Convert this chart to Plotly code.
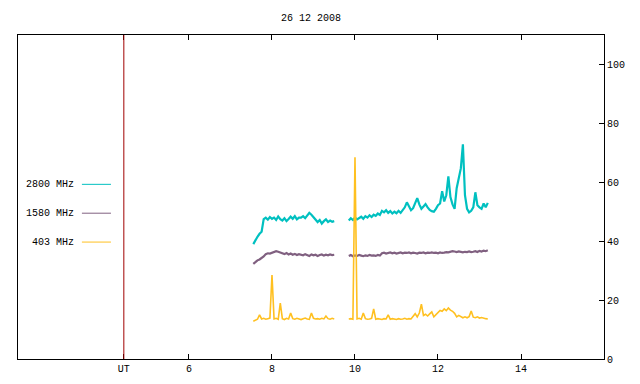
import numpy as np
import plotly.graph_objects as go

# ---- data (hours UT, solar flux units) ----
title_text = "26 12 2008"
sunrise_ut = 4.43
x_tick_vals = [6, 8, 10, 12, 14]
y_tick_vals = [0, 20, 40, 60, 80, 100]

t_seg1 = np.round(7.55 + 0.05 * np.arange(40), 2)
t_seg2 = np.round(9.85 + 0.05 * np.arange(68), 2)

f2800_seg1 = [39.0, 40.5, 41.5, 42.5, 43.2, 47.5, 48.0, 47.3, 48.2, 47.6,
              48.0, 47.2, 48.4, 47.5, 47.0, 47.8, 46.8, 47.5, 48.3, 47.6,
              48.5, 47.4, 48.0, 48.0, 48.5, 47.8, 48.6, 49.6, 49.0, 48.2,
              47.3, 46.5, 47.2, 46.0, 46.8, 47.4, 46.5, 47.0, 46.6, 46.8]
f2800_seg2 = [47.0, 47.8, 47.2, 48.0, 47.4, 47.9, 48.3, 47.6, 48.5, 48.0,
              48.8, 48.2, 49.0, 48.6, 49.4, 48.9, 50.3, 49.8, 50.5, 49.6,
              50.2, 49.4, 50.0, 49.5, 50.3, 49.6, 50.4, 51.5, 53.2, 51.8,
              50.5, 51.2, 53.0, 54.6, 52.5, 51.0, 51.8, 52.6, 51.5, 50.6,
              50.2, 50.0, 51.0, 52.2, 52.8, 57.0, 53.5, 55.6, 62.0, 55.0,
              52.5, 51.0, 58.0, 61.0, 64.7, 72.9, 55.6, 51.0, 49.8, 50.3,
              51.5, 56.6, 52.2, 51.5, 51.0, 52.8, 51.5, 53.0]

f1580_seg1 = [32.3, 33.0, 33.5, 33.8, 34.2, 34.8, 35.6, 35.9, 35.8, 36.0,
              36.3, 36.6, 36.4, 36.1, 35.8, 35.6, 36.0, 35.5, 35.8, 35.4,
              35.7, 35.3, 35.6, 35.5, 35.2, 35.6, 35.4, 35.0, 35.5, 35.2,
              35.4, 35.0, 35.3, 35.5, 35.1, 35.4, 35.2, 35.5, 35.3, 35.4]
f1580_seg2 = [35.0, 35.3, 34.9, 35.2, 35.0, 35.3, 35.1, 34.9, 35.2, 35.0,
              35.3, 35.1, 35.2, 35.0, 35.3, 35.1, 35.9, 36.1, 35.8, 36.0,
              36.2, 35.9, 36.1, 35.8, 36.0, 36.2, 35.9, 36.1, 36.0, 36.2,
              35.9, 36.1, 36.0, 35.8, 36.1, 36.0, 36.2, 35.9, 36.1, 36.0,
              36.2, 36.0, 36.1, 35.9, 36.2, 36.0, 36.1, 36.3, 36.2, 36.4,
              36.6, 36.5, 36.3, 36.5, 36.4, 36.2, 36.4, 36.3, 36.5, 36.3,
              36.4, 36.6, 36.3, 36.7, 36.5, 36.8, 36.6, 36.9]

f403_seg1 = [12.8, 13.3, 13.5, 15.0, 13.6, 13.8, 13.5, 13.7, 13.9, 28.5,
             13.6, 13.8, 13.5, 19.0, 13.7, 13.4, 13.8, 13.6, 15.6, 13.7,
             13.5, 13.8, 13.6, 13.4, 13.7, 13.9, 13.6, 13.5, 15.6, 13.8,
             13.6, 13.7, 13.5, 13.8, 13.6, 14.6, 13.7, 13.5, 13.8, 13.6]
f403_seg2 = [13.6, 13.7, 13.5, 68.5, 13.6, 13.8, 13.5, 15.6, 13.7, 13.5,
             13.6, 13.8, 17.0, 13.5, 13.7, 13.6, 13.4, 13.7, 13.6, 15.0,
             13.5, 13.7, 13.6, 13.4, 13.7, 13.5, 13.6, 13.8, 13.5, 13.7,
             13.6, 14.5, 15.4, 14.3, 15.6, 18.6, 14.8, 15.2, 14.6, 15.3,
             16.0, 14.3, 15.0, 16.0, 16.5, 16.2, 17.0, 16.4, 17.3, 16.6,
             16.2, 15.5, 14.3, 14.8, 14.5, 14.0, 14.3, 14.0, 14.4, 16.3,
             14.2, 14.0, 14.3, 13.9, 14.1, 13.8, 13.7, 13.6]

series = [
    ("2800 MHz", f2800_seg1, f2800_seg2, "#00c0c0", 59.3, 2.2),
    ("1580 MHz", f1580_seg1, f1580_seg2, "#806080", 49.5, 2.2),
    ("403 MHz", f403_seg1, f403_seg2, "#ffc020", 39.7, 1.6),
]

fig = go.Figure()
font = dict(family="Liberation Mono", size=10, color="black")

for name, s1, s2, color, ly, lw in series:
    x = list(t_seg1) + [None] + list(t_seg2)
    y = list(s1) + [None] + list(s2)
    fig.add_trace(go.Scatter(x=x, y=y, mode="lines", name=name,
                             line=dict(color=color, width=lw),
                             connectgaps=False, showlegend=False))
    # gnuplot-style key: label then line sample
    fig.add_annotation(x=3.28, y=ly, xref="x", yref="y", text=name,
                       showarrow=False, xanchor="right", yanchor="middle",
                       font=font)
    fig.add_shape(type="line", x0=3.42, x1=4.12, y0=ly, y1=ly,
                  xref="x", yref="y", line=dict(color=color, width=1))

fig.add_vline(x=sunrise_ut, line=dict(color="#a00000", width=1))

fig.update_layout(
    width=632, height=376,
    margin=dict(l=10, r=36, t=27, b=25),
    paper_bgcolor="white", plot_bgcolor="white",
    font=font,
    annotations=list(fig.layout.annotations) + [
        dict(text=title_text, x=0.5, y=1, xref="paper", yref="paper",
             yshift=17, showarrow=False, xanchor="center", yanchor="middle",
             font=font)],
)
fig.update_xaxes(range=[1.88, 16.0], tickvals=[sunrise_ut] + x_tick_vals,
                 ticktext=["UT"] + [str(v) for v in x_tick_vals],
                 ticks="inside", ticklen=5, tickcolor="black",
                 showline=True, linecolor="black", linewidth=1,
                 mirror="ticks", showgrid=False, zeroline=False)
fig.update_yaxes(range=[0, 110], tickvals=y_tick_vals, side="right",
                 ticks="inside", ticklen=5, tickcolor="black",
                 showline=True, linecolor="black", linewidth=1,
                 mirror=True, showgrid=False, zeroline=False)

fig.write_html("out.html")
